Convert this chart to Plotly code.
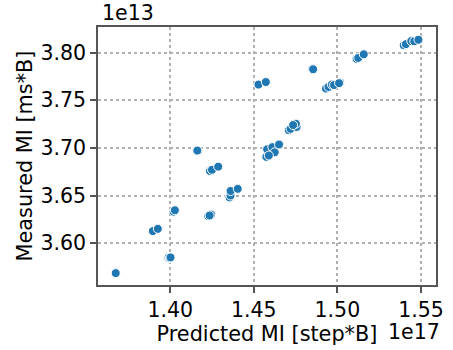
import plotly.graph_objects as go

# Predicted MI [step*B] in units of 1e17, Measured MI [ms*B] in units of 1e13
predicted = [
    1.3674,
    1.3990, 1.3998, 1.4002,
    1.3896, 1.3926,
    1.4020, 1.4028,
    1.4228, 1.4244, 1.4236,
    1.4355, 1.4361, 1.4361, 1.4404,
    1.4238, 1.4250, 1.4287,
    1.4166, 1.4162,
    1.4575, 1.4580, 1.4611, 1.4625, 1.4651, 1.4590,
    1.4709, 1.4720, 1.4756, 1.4752, 1.4735,
    1.4528, 1.4572,
    1.4850, 1.4855,
    1.4932, 1.4947, 1.4967, 1.4980, 1.5016, 1.5010,
    1.5115, 1.5125, 1.5158,
    1.5397, 1.5410, 1.5442, 1.5460, 1.5485,
]
measured = [
    3.5685,
    3.5846, 3.5843, 3.5850,
    3.6126, 3.6150,
    3.6330, 3.6345,
    3.6283, 3.6300, 3.6290,
    3.6480, 3.6500, 3.6547, 3.6570,
    3.6758, 3.6770, 3.6803,
    3.6967, 3.6972,
    3.6906, 3.6985, 3.7008, 3.6954, 3.7036, 3.6920,
    3.7186, 3.7200, 3.7220, 3.7254, 3.7240,
    3.7665, 3.7692,
    3.7829, 3.7826,
    3.7623, 3.7640, 3.7665, 3.7660, 3.7685, 3.7680,
    3.7935, 3.7945, 3.7983,
    3.8078, 3.8090, 3.8122, 3.8120, 3.8136,
]
x_scale = 1e17
y_scale = 1e13
x_ticks = ["1.40", "1.45", "1.50", "1.55"]
y_ticks = ["3.60", "3.65", "3.70", "3.75", "3.80"]

FONT = "DejaVu Sans"
TICK_SIZE = 20.5
TITLE_SIZE = 20.8
EXP_SIZE = 20.5

fig = go.Figure(go.Scatter(
    x=[v * x_scale for v in predicted],
    y=[v * y_scale for v in measured],
    mode="markers",
    marker=dict(color="#1f77b4", size=9, line=dict(color="white", width=1)),
))

axis_common = dict(
    showline=True, mirror=True, linecolor="#555555", linewidth=1.5,
    ticks="outside", ticklen=6, tickwidth=1.5, tickcolor="#555555",
    showgrid=True, gridcolor="#b0b0b0", gridwidth=2, griddash="dot",
    zeroline=False, tickfont=dict(family=FONT, size=TICK_SIZE, color="black"),
)

fig.update_layout(
    width=453, height=350,
    margin=dict(l=98, r=10, t=27, b=59),
    paper_bgcolor="white", plot_bgcolor="white",
    showlegend=False,
    font=dict(family=FONT, size=TITLE_SIZE, color="black"),
    xaxis=dict(
        range=[1.3568 * x_scale, 1.559 * x_scale],
        tickvals=[float(t) * x_scale for t in x_ticks], ticktext=x_ticks,
        title=dict(text="Predicted MI [step*B]", standoff=3,
                   font=dict(family=FONT, size=TITLE_SIZE, color="black")),
        **axis_common,
    ),
    yaxis=dict(
        range=[3.556 * y_scale, 3.827 * y_scale],
        tickvals=[float(t) * y_scale for t in y_ticks], ticktext=y_ticks,
        title=dict(text="Measured MI [ms*B]", standoff=2,
                   font=dict(family=FONT, size=TITLE_SIZE, color="black")),
        **axis_common,
    ),
    annotations=[
        dict(text="1e13", xref="paper", yref="paper", x=0, y=1,
             xanchor="left", yanchor="bottom", showarrow=False,
             font=dict(family=FONT, size=EXP_SIZE, color="black"), xshift=2, yshift=0),
        dict(text="1e17", xref="paper", yref="paper", x=1, y=0,
             xanchor="right", yanchor="top", showarrow=False,
             font=dict(family=FONT, size=EXP_SIZE, color="black"), xshift=6, yshift=-33),
    ],
)

fig.write_html("out.html")
